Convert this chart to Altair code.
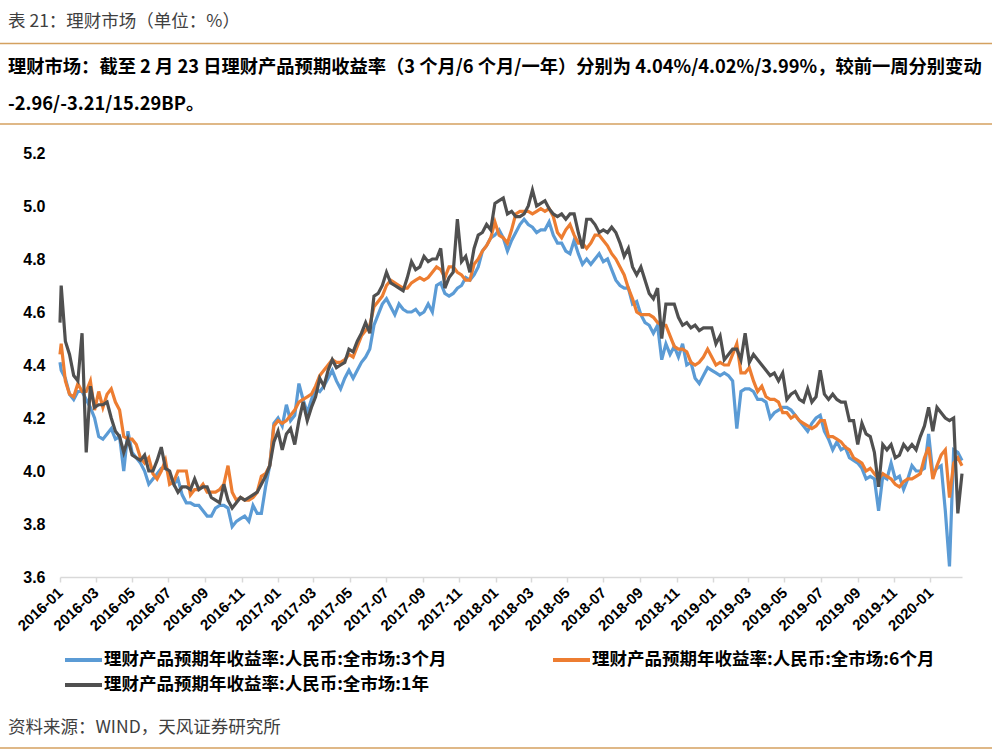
import altair as alt
import pandas as pd

# ---------------- data ----------------
first_date = "2016-01-01"          # opening observation
weekly_start = "2016-01-03"        # weekly observations, every Sunday
n_weeks = 217                      # 2016-01-03 ... 2020-02-23

y_3m = [4.41,
        4.38, 4.35, 4.29, 4.27, 4.30, 4.30, 4.27, 4.24, 4.20, 4.13, 4.12, 4.14, 4.16, 4.12, 4.13, 4.00, 4.15, 4.07, 4.05,
        4.03, 4.00, 3.95, 3.97, 3.99, 4.01, 4.01, 3.99, 3.95, 3.97, 3.91, 3.88, 3.88, 3.87, 3.87, 3.85, 3.83, 3.83, 3.86,
        3.87, 3.87, 3.86, 3.79, 3.81, 3.82, 3.83, 3.81, 3.87, 3.84, 3.84, 3.94, 4.02, 4.18, 4.20, 4.17, 4.25, 4.19, 4.21,
        4.33, 4.27, 4.22, 4.27, 4.31, 4.30, 4.32, 4.35, 4.38, 4.34, 4.31, 4.35, 4.38, 4.35, 4.38, 4.41,
        4.43, 4.46, 4.55, 4.59, 4.63, 4.65, 4.62, 4.59, 4.63, 4.61, 4.60, 4.60, 4.61, 4.59, 4.60, 4.63, 4.60, 4.70,
        4.71, 4.67, 4.66, 4.67, 4.69, 4.70, 4.73, 4.72, 4.74, 4.77, 4.83, 4.85, 4.88, 4.89, 4.91, 4.88, 4.83, 4.87,
        4.90, 4.93, 4.95, 4.93, 4.92, 4.90, 4.91, 4.91, 4.94, 4.89, 4.86, 4.86, 4.83, 4.82, 4.87, 4.82, 4.78, 4.80,
        4.78, 4.80, 4.82, 4.79, 4.80, 4.76, 4.72, 4.70, 4.69, 4.69, 4.63, 4.64, 4.59, 4.56, 4.55, 4.52, 4.55, 4.42,
        4.48, 4.44, 4.47, 4.43, 4.48, 4.40, 4.41, 4.35, 4.33, 4.36, 4.39, 4.38, 4.37, 4.36, 4.37, 4.36, 4.34, 4.16,
        4.30, 4.31, 4.31, 4.30, 4.27, 4.27, 4.26, 4.20, 4.22, 4.23, 4.24, 4.24, 4.23, 4.21, 4.19, 4.17, 4.15, 4.18,
        4.20, 4.21, 4.15, 4.12, 4.08, 4.11, 4.08, 4.09, 4.05, 4.04, 4.03, 4.01, 3.97, 3.98, 3.97, 3.85, 3.98, 3.97,
        4.03, 3.97, 3.98, 3.93, 3.97, 4.02, 4.00, 4.00, 4.01, 4.14, 3.99, 4.01, 4.02, 3.85, 3.64, 4.08, 4.07, 4.04]

y_6m = [4.44,
        4.48, 4.34, 4.29, 4.28, 4.33, 4.30, 4.30, 4.34, 4.23, 4.30, 4.24, 4.29, 4.31, 4.26, 4.23, 4.13, 4.12, 4.12, 4.10,
        4.05, 4.03, 4.05, 3.99, 3.97, 4.00, 4.04, 3.95, 3.96, 4.00, 4.00, 4.00, 3.91, 3.93, 3.93, 3.95, 3.92, 3.92, 3.92,
        3.93, 3.95, 4.02, 3.92, 3.89, 3.90, 3.89, 3.89, 3.90, 3.92, 3.98, 3.99, 4.02, 4.17, 4.19, 4.18, 4.19, 4.21, 4.23,
        4.26, 4.27, 4.28, 4.29, 4.32, 4.36, 4.38, 4.40, 4.42, 4.41, 4.41, 4.42, 4.44, 4.43, 4.47, 4.51,
        4.53, 4.55, 4.62, 4.64, 4.66, 4.70, 4.72, 4.71, 4.70, 4.69, 4.69, 4.71, 4.72, 4.73, 4.72, 4.73, 4.75, 4.77,
        4.76, 4.73, 4.77, 4.77, 4.75, 4.74, 4.72, 4.72, 4.78, 4.80, 4.83, 4.85, 4.88, 4.94, 4.89, 4.88, 4.86, 4.91,
        4.97, 4.98, 4.98, 4.98, 4.97, 4.98, 4.99, 4.98, 4.99, 4.96, 4.90, 4.88, 4.91, 4.93, 4.89, 4.86, 4.86, 4.84,
        4.86, 4.89, 4.89, 4.87, 4.85, 4.82, 4.80, 4.77, 4.74, 4.69, 4.65, 4.60, 4.59, 4.59, 4.59, 4.58, 4.56, 4.55,
        4.55, 4.51, 4.47, 4.46, 4.46, 4.45, 4.41, 4.40, 4.41, 4.43, 4.46, 4.43, 4.40, 4.41, 4.40, 4.40, 4.44, 4.48,
        4.37, 4.37, 4.39, 4.34, 4.30, 4.32, 4.28, 4.27, 4.27, 4.26, 4.22, 4.22, 4.20, 4.21, 4.19, 4.18, 4.17, 4.16,
        4.17, 4.19, 4.19, 4.13, 4.13, 4.12, 4.11, 4.09, 4.08, 4.05, 4.04, 4.03, 4.00, 4.01, 3.99, 3.97, 3.99, 3.98,
        3.97, 3.95, 3.94, 3.96, 3.97, 3.97, 3.98, 3.99, 4.05, 4.09, 3.97, 4.02, 4.06, 4.08, 3.90, 4.03, 4.05, 4.02]

y_1y = [4.56,
        4.70, 4.49, 4.44, 4.36, 4.34, 4.52, 4.07, 4.32, 4.24, 4.25, 4.25, 4.26, 4.20, 4.15, 4.13, 4.07, 4.12, 4.06, 4.05,
        4.04, 4.06, 4.00, 4.00, 4.04, 4.09, 4.01, 4.00, 3.95, 3.92, 3.94, 3.94, 3.93, 3.97, 3.93, 3.94, 3.94, 3.90, 3.89,
        3.88, 3.95, 3.89, 3.86, 3.88, 3.90, 3.89, 3.90, 3.91, 3.92, 3.95, 3.98, 4.02, 4.11, 4.15, 4.08, 4.14, 4.16, 4.10,
        4.19, 4.26, 4.19, 4.24, 4.28, 4.35, 4.32, 4.38, 4.42, 4.39, 4.40, 4.41, 4.46, 4.45, 4.49, 4.52,
        4.56, 4.52, 4.66, 4.67, 4.70, 4.75, 4.71, 4.70, 4.69, 4.68, 4.73, 4.79, 4.76, 4.77, 4.81, 4.79, 4.80, 4.80,
        4.84, 4.69, 4.73, 4.75, 4.95, 4.79, 4.81, 4.75, 4.84, 4.89, 4.90, 4.93, 4.91, 5.01, 5.02, 5.03, 4.97, 4.98,
        4.96, 4.96, 4.97, 5.00, 5.06, 5.00, 5.01, 5.02, 4.99, 4.97, 4.96, 4.97, 4.95, 4.97, 4.97, 4.90, 4.84, 4.95,
        4.95, 4.93, 4.90, 4.91, 4.90, 4.92, 4.90, 4.86, 4.81, 4.84, 4.77, 4.74, 4.77, 4.72, 4.67, 4.65, 4.69, 4.50,
        4.63, 4.63, 4.63, 4.58, 4.55, 4.56, 4.54, 4.55, 4.53, 4.54, 4.54, 4.54, 4.48, 4.51, 4.42, 4.44, 4.46, 4.46,
        4.42, 4.52, 4.41, 4.44, 4.42, 4.40, 4.38, 4.36, 4.37, 4.34, 4.37, 4.27, 4.29, 4.30, 4.27, 4.26, 4.31, 4.26,
        4.28, 4.38, 4.29, 4.27, 4.29, 4.27, 4.26, 4.26, 4.19, 4.19, 4.10, 4.18, 4.14, 4.13, 4.07, 3.94, 4.10, 4.08,
        4.10, 4.05, 4.06, 4.10, 4.08, 4.10, 4.08, 4.13, 4.17, 4.24, 4.15, 4.24, 4.22, 4.20, 4.19, 4.20, 3.84, 3.99]

series_names = ["理财产品预期年收益率:人民币:全市场:3个月",
                "理财产品预期年收益率:人民币:全市场:6个月",
                "理财产品预期年收益率:人民币:全市场:1年"]
series_colors = ["#5B9BD5", "#ED7D31", "#505050"]
y_ticks = [3.6, 3.8, 4.0, 4.2, 4.4, 4.6, 4.8, 5.0, 5.2]

title_text = "表 21：理财市场（单位：%）"
summary_line1 = "理财市场：截至 2 月 23 日理财产品预期收益率（3 个月/6 个月/一年）分别为 4.04%/4.02%/3.99%，较前一周分别变动"
summary_line2 = "-2.96/-3.21/15.29BP。"
source_text = "资料来源：WIND，天风证券研究所"

# ---------------- table ----------------
dates = [first_date] + [d.strftime("%Y-%m-%d") for d in pd.date_range(weekly_start, periods=n_weeks, freq="7D")]
df = pd.DataFrame({"date": dates, "y3m": y_3m, "y6m": y_6m, "y1y": y_1y})

# ---------------- layout ----------------
PL, PT, PR, PB = 60, 153, 30, 176
W, H = 992 - PL - PR, 753 - PT - PB
CJK = "Noto Sans CJK SC"
TAN = "#D4A15F"

x_enc = alt.X("date:T",
              scale=alt.Scale(type="utc",
                              domain=[alt.DateTime(year=2016, month=1, date=1, utc=True),
                                      alt.DateTime(year=2020, month=2, date=23, utc=True)]),
              axis=alt.Axis(title=None, format="%Y-%m",
                            tickCount={"interval": "month", "step": 2},
                            labelAngle=-43, labelAlign="right", labelBaseline="middle",
                            labelFont="Liberation Sans", labelFontWeight="bold", labelFontSize=15,
                            labelColor="#000000", labelPadding=8, labelOverlap=False,
                            domainColor="#D9D9D9", domainWidth=1.5,
                            tickColor="#D9D9D9", tickSize=5, tickWidth=1.5, grid=False))

y_scale = alt.Scale(domain=[3.6, 5.2], nice=False, zero=False)
y_axis = alt.Axis(title=None, values=y_ticks, format=".1f", grid=False, domain=False, ticks=False,
                  labelFont="Liberation Sans", labelFontWeight="bold", labelFontSize=16,
                  labelColor="#000000", labelPadding=15)

base = alt.Chart(df)
lines = []
for field, name, color in zip(["y3m", "y6m", "y1y"], series_names, series_colors):
    lines.append(base.mark_line(color=color, strokeWidth=3.2, strokeJoin="miter", clip=False).encode(
        x=x_enc,
        y=alt.Y(f"{field}:Q", scale=y_scale, axis=y_axis),
    ))


def text_layer(s, x, y, size, weight="normal", color="#000000", font=CJK):
    return alt.Chart(pd.DataFrame({"t": [s]})).mark_text(
        align="left", baseline="middle", font=font, fontSize=size, fontWeight=weight, color=color
    ).encode(text="t:N", x=alt.value(x), y=alt.value(y))


def hrule(y, color=TAN, width=1.5, x0=-PL, x1=992 - PL):
    return alt.Chart(pd.DataFrame({"k": [0]})).mark_rule(color=color, strokeWidth=width).encode(
        x=alt.value(x0), x2=alt.value(x1), y=alt.value(y))


decor = [
    text_layer(title_text, 8 - PL, 22 - PT, 17.5, color="#3F3F3F"),
    hrule(43.5 - PT),
    text_layer(summary_line1, 8 - PL, 68 - PT, 18.3, weight="bold"),
    text_layer(summary_line2, 8 - PL, 105 - PT, 18.3, weight="bold"),
    hrule(124 - PT),
    text_layer(source_text, 8 - PL, 728 - PT, 17.5, color="#3F3F3F"),
    hrule(748 - PT),
]

# legend (manual, two rows as in the reference)
legend_pos = [(65, 660), (553, 660), (65, 685)]
for (lx, ly), name, color in zip(legend_pos, series_names, series_colors):
    decor.append(hrule(ly - PT, color=color, width=4, x0=lx - PL, x1=lx + 37 - PL))
    decor.append(text_layer(name, lx + 39 - PL, ly - PT, 17.5, weight="bold"))

chart = alt.layer(*lines, *decor).properties(
    width=W, height=H,
    autosize=alt.AutoSizeParams(type="none"),
    padding={"left": PL, "top": PT, "right": PR, "bottom": PB},
    background="#FFFFFF",
).configure_view(stroke=None)

chart.save("out.html", embed_options={"renderer": "svg", "actions": False})
